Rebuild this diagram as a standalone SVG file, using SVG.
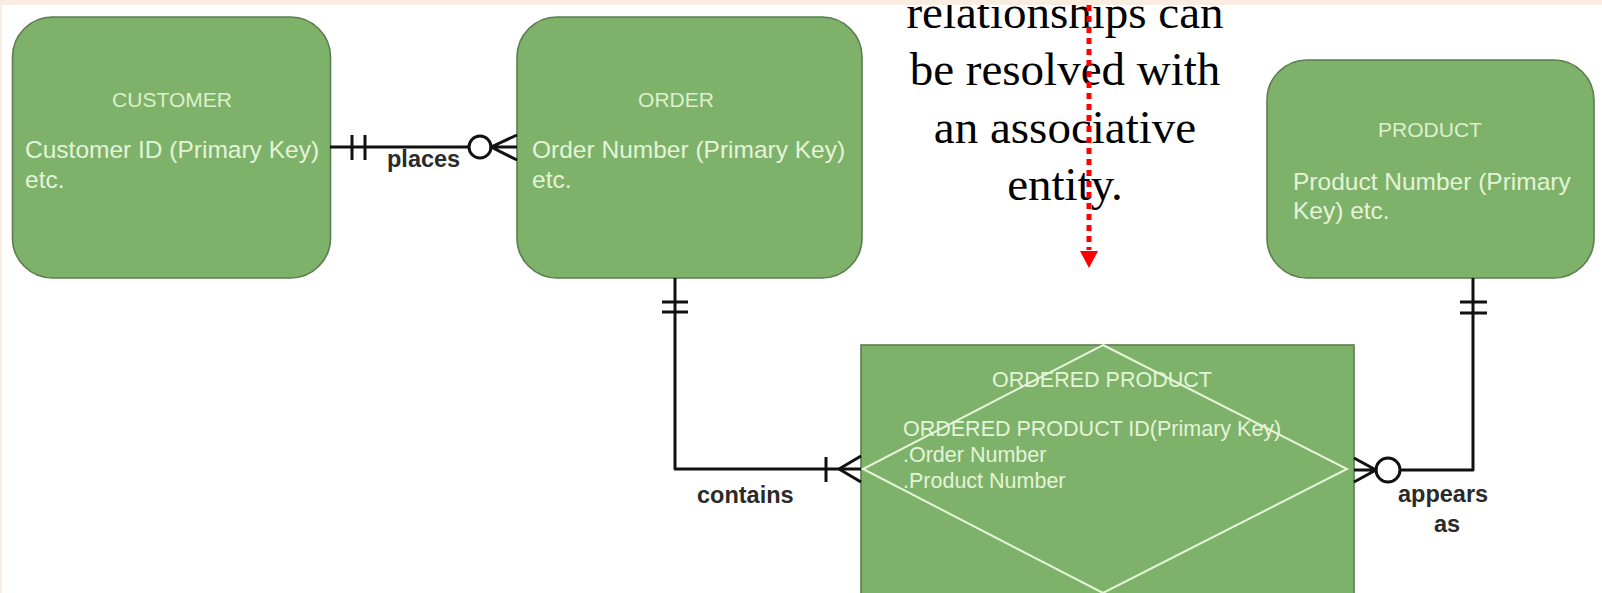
<svg xmlns="http://www.w3.org/2000/svg" width="1602" height="593" viewBox="0 0 1602 593">
<defs>
<style>
.ent{fill:#7eb26a;stroke:#5b7d4f;stroke-width:1.6}
.ttl{font-family:"Liberation Sans",Arial,sans-serif;font-size:21px;fill:#dcf0cc}
.att{font-family:"Liberation Sans",Arial,sans-serif;font-size:24.5px;fill:#e4f4d8}
.att2{font-family:"Liberation Sans",Arial,sans-serif;font-size:21.5px;fill:#e4f4d8}
.ln{fill:none;stroke:#111;stroke-width:3;stroke-linejoin:round}
.circ{fill:#fff;stroke:#111;stroke-width:3}
.lbl{font-family:"Liberation Sans",Arial,sans-serif;font-size:23.5px;font-weight:bold;fill:#2a2a2a}
.note{font-family:"Liberation Serif","Times New Roman",serif;font-size:47px;fill:#000}
</style>
</defs>
<rect x="0" y="0" width="1602" height="593" fill="#ffffff"/>

<g id="customer">
<rect class="ent" x="12.5" y="17" width="318" height="261" rx="40" ry="40"/>
<text class="ttl" x="172" y="107" text-anchor="middle">CUSTOMER</text>
<text class="att" x="25" y="158">Customer ID (Primary Key)</text>
<text class="att" x="25" y="188">etc.</text>
</g>

<g id="order">
<rect class="ent" x="517" y="17" width="345" height="261" rx="40" ry="40"/>
<text class="ttl" x="676" y="107" text-anchor="middle">ORDER</text>
<text class="att" x="532" y="158">Order Number (Primary Key)</text>
<text class="att" x="532" y="188">etc.</text>
</g>

<g id="product">
<rect class="ent" x="1267" y="60" width="327" height="218" rx="40" ry="40"/>
<text class="ttl" x="1430" y="137" text-anchor="middle">PRODUCT</text>
<text class="att" x="1293" y="190">Product Number (Primary</text>
<text class="att" x="1293" y="219">Key) etc.</text>
</g>

<g id="ordered-product">
<rect class="ent" x="861" y="345" width="493" height="252"/>
<polygon points="1103,345 1347,469 1103,593 863,469" fill="none" stroke="#e6f6d8" stroke-width="2"/>
<text class="att2" x="1102" y="387" text-anchor="middle">ORDERED PRODUCT</text>
<text class="att2" x="903" y="436">ORDERED PRODUCT ID(Primary Key)</text>
<text class="att2" x="903" y="462">.Order Number</text>
<text class="att2" x="903" y="488">.Product Number</text>
</g>

<g id="connectors">
<!-- places -->
<path class="ln" d="M330,147 H491"/>
<path class="ln" d="M352,135 V160 M365,135 V160"/>
<circle class="circ" cx="480" cy="147" r="11"/>
<path class="ln" d="M517,135 L491,147 L517,160 M491,147 H517"/>
<text class="lbl" x="387" y="167">places</text>
<!-- contains -->
<path class="ln" d="M675,278 V469 H861"/>
<path class="ln" d="M662,302 H688 M662,312 H688"/>
<path class="ln" d="M826,457 V482"/>
<path class="ln" d="M861,456 L839,469 L861,482"/>
<text class="lbl" x="697" y="503">contains</text>
<!-- appears as -->
<path class="ln" d="M1473,278 V470 H1400"/>
<path class="ln" d="M1460,302 H1487 M1460,313 H1487"/>
<circle class="circ" cx="1388" cy="470" r="12"/>
<path class="ln" d="M1354,458 L1376,470 L1354,482 M1354,470 H1376"/>
<text class="lbl" x="1398" y="502">appears</text>
<text class="lbl" x="1447" y="532" text-anchor="middle">as</text>
</g>

<g id="note">
<text class="note" x="1065" y="28" text-anchor="middle">relationships can</text>
<text class="note" x="1065" y="85" text-anchor="middle">be resolved with</text>
<text class="note" x="1065" y="143" text-anchor="middle">an associative</text>
<text class="note" x="1065" y="200" text-anchor="middle">entity.</text>
<line x1="1089" y1="5" x2="1089" y2="250" stroke="#ff0000" stroke-width="5" stroke-dasharray="6 5"/>
<polygon points="1080,251 1098,251 1089,268" fill="#ff0000"/>
</g>

<rect x="0" y="0" width="1602" height="5" fill="#f9ece1"/>
<rect x="0" y="0" width="2" height="593" fill="#f9ece1"/>
</svg>
